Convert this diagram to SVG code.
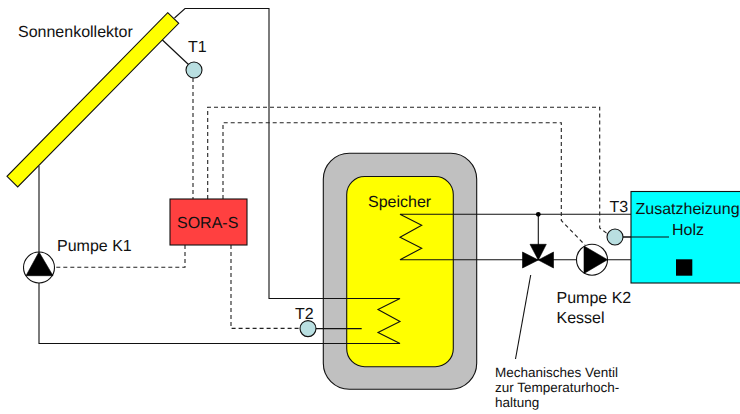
<svg xmlns="http://www.w3.org/2000/svg" width="740" height="414" viewBox="0 0 740 414">
<style>
text{font-family:"Liberation Sans",Arial,sans-serif;font-size:16px;fill:#111;text-rendering:geometricPrecision}
.s{font-size:13.5px}
.l{fill:none;stroke:#111;stroke-width:1.1}
.d{fill:none;stroke:#222;stroke-width:1.1;stroke-dasharray:4 3}
.o{stroke:#111;stroke-width:1.1}
.sensor{fill:#b9dfe1;stroke:#111;stroke-width:1.1}
.b{fill:#000;stroke:#000;stroke-width:.6}
</style>
<rect width="740" height="414" fill="#fff"/>
<g id="tank">
<rect x="323.3" y="153.3" width="153.4" height="236" rx="26" class="o" fill="#c0c0c0"/>
<rect x="346.7" y="176.5" width="106.6" height="190.2" rx="18" class="o" fill="#ffff00"/>
<text x="368" y="207">Speicher</text>
</g>
<g id="connectors">
<path class="l" d="M174.5 18L185 8.5H269V298.5H400L378 309.5L400 321.5L378 332.5L400 343.5H39V166"/>
<path class="l" d="M631 214.3H400L421.7 225.3L400 237.3L421.7 248.3L400 259.7H576M608 259.7H631"/>
<path class="l" d="M538.3 214.3V245"/>
<path class="l" d="M155 33L189 65"/>
<path class="l" d="M308 328.6H361.7"/>
<path class="l" d="M615 237H669"/>
<path class="l" d="M530.7 275L515.5 359"/>
<path class="d" d="M193 78V199"/>
<path class="d" d="M207.7 199V107.3H599.7V228L609 235"/>
<path class="d" d="M223 199V122.7H561.3V220.5L585 245"/>
<path class="d" d="M185 245V267.3H55"/>
<path class="d" d="M231 245V328.4H300"/>
<circle cx="538.3" cy="214.3" r="2.4" fill="#000"/>
</g>
<g id="collector">
<path d="M167.7 12.7L178.7 23.3L17.7 187L7 176.3Z" class="o" fill="#ffff00"/>
<text x="18" y="37">Sonnenkollektor</text>
</g>
<g id="t1">
<circle cx="194" cy="70" r="8" class="sensor"/>
<text x="188" y="52">T1</text>
</g>
<g id="sora">
<rect x="170" y="199" width="77" height="46" class="o" fill="#ff4040"/>
<text x="177" y="228">SORA-S</text>
</g>
<g id="pump-k1">
<circle cx="39" cy="267.5" r="15.5" fill="#fff" class="o"/>
<path class="b" d="M39 252L53 275.7H26Z"/>
<text x="57" y="251">Pumpe K1</text>
</g>
<g id="t2">
<circle cx="308" cy="328.6" r="8" class="sensor"/>
<text x="295" y="319">T2</text>
</g>
<g id="boiler">
<rect x="631" y="191.5" width="112" height="91.5" class="o" fill="#00ffff"/>
<rect x="676" y="259.3" width="16.3" height="16.4" fill="#000"/>
<text x="635.5" y="214">Zusatzheizung</text>
<text x="672" y="234.5">Holz</text>
<path class="l" d="M623 237H669"/>
</g>
<g id="t3">
<circle cx="615" cy="237" r="8" class="sensor"/>
<text x="609.5" y="212">T3</text>
</g>
<g id="pump-k2">
<circle cx="592" cy="259.7" r="15.5" fill="#fff" class="o"/>
<path class="b" d="M607.5 259.7L584 246V273.5Z"/>
<text x="556.5" y="303">Pumpe K2</text>
<text x="556.5" y="323">Kessel</text>
</g>
<g id="valve">
<path class="b" d="M538.3 260L530 244.3H546.3ZM538.3 260L522.5 252V268ZM538.3 260L553.5 252V268Z"/>
</g>
<g id="valve-note">
<text class="s" x="495" y="376.5">Mechanisches Ventil</text>
<text class="s" x="495" y="391.5">zur Temperaturhoch-</text>
<text class="s" x="495" y="406.5">haltung</text>
</g>
</svg>
